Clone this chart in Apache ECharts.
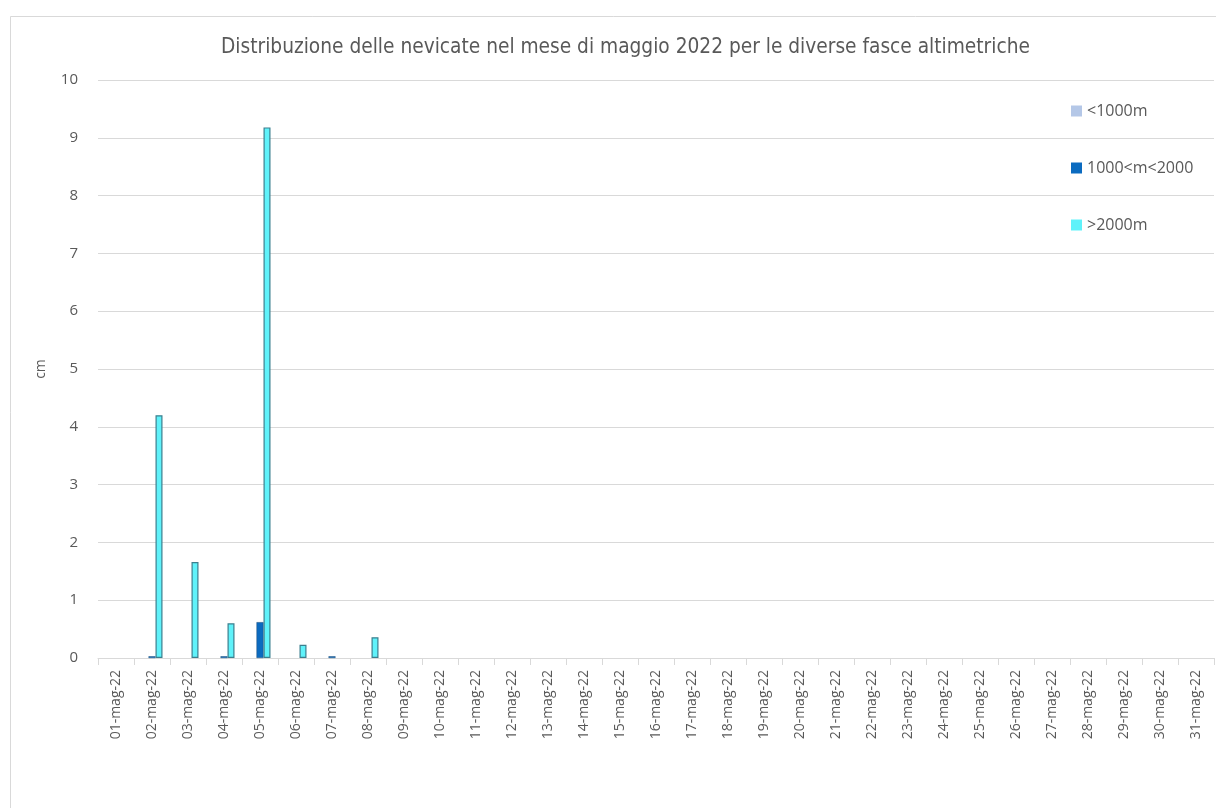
<!DOCTYPE html>
<html><head><meta charset="utf-8">
<script src="https://cdn.jsdelivr.net/npm/echarts@6/dist/echarts.min.js"></script>
<style>html,body{margin:0;padding:0;background:#fff}#c{width:1216px;height:808px}</style>
</head><body><div id="c"></div>
<script>
const categories = ['01-mag-22','02-mag-22','03-mag-22','04-mag-22','05-mag-22','06-mag-22','07-mag-22','08-mag-22','09-mag-22','10-mag-22','11-mag-22','12-mag-22','13-mag-22','14-mag-22','15-mag-22','16-mag-22','17-mag-22','18-mag-22','19-mag-22','20-mag-22','21-mag-22','22-mag-22','23-mag-22','24-mag-22','25-mag-22','26-mag-22','27-mag-22','28-mag-22','29-mag-22','30-mag-22','31-mag-22'];
const below1000 = [0,0,0,0,0,0,0,0,0,0,0,0,0,0,0,0,0,0,0,0,0,0,0,0,0,0,0,0,0,0,0];
const mid1000_2000 = [0,0.03,0,0.03,0.62,0,0.03,0,0,0,0,0,0,0,0,0,0,0,0,0,0,0,0,0,0,0,0,0,0,0,0];
const above2000 = [0,4.2,1.66,0.6,9.18,0.23,0,0.36,0,0,0,0,0,0,0,0,0,0,0,0,0,0,0,0,0,0,0,0,0,0,0];
const seriesNames = ['<1000m','1000<m<2000','>2000m'];

// zero-height bars are not drawn (no visible outline), as in the reference
const nz = arr => arr.map(v => v === 0 ? '-' : v);

const chart = echarts.init(document.getElementById('c'));
const font = 'Open Sans';
chart.setOption({
  animation: false,
  backgroundColor: '#fff',
  graphic: [{type:'rect', shape:{x:10.5,y:16.5,width:1300,height:900}, style:{fill:'none',stroke:'#d9d9d9',lineWidth:1}, z:-10}],
  title: {text:'Distribuzione delle nevicate nel mese di maggio 2022 per le diverse fasce altimetriche', left:216, top:32,
    textStyle:{fontFamily:'DejaVu Sans Condensed', fontSize:20.7, fontWeight:'normal', color:'#595959'}},
  legend: {orient:'vertical', left:1066, top:98, itemGap:41, itemWidth:11, itemHeight:11, icon:'rect',
    textStyle:{fontFamily:font, fontSize:16, color:'#595959'}, itemStyle:{borderWidth:0}},
  grid: {left:98, right:2, top:80, bottom:150, containLabel:false},
  xAxis: {type:'category', data:categories,
    axisLine:{lineStyle:{color:'#d9d9d9'}},
    axisTick:{show:true, length:7, lineStyle:{color:'#d9d9d9'}},
    axisLabel:{rotate:90, fontFamily:font, fontSize:14, color:'#595959', margin:12, interval:0}},
  yAxis: {type:'value', min:0, max:10, interval:1, name:'cm', nameLocation:'middle', nameGap:50,
    nameTextStyle:{fontFamily:font, fontSize:14, color:'#595959'},
    axisLabel:{fontFamily:font, fontSize:15, color:'#595959', margin:20},
    splitLine:{lineStyle:{color:'#d9d9d9'}}, axisLine:{show:false}, axisTick:{show:false}},
  series: [
    {name:seriesNames[0], type:'bar', data:nz(below1000), barWidth:7, barGap:'0%', itemStyle:{color:'#b4c7e7'}},
    {name:seriesNames[1], type:'bar', data:nz(mid1000_2000), barWidth:7, barGap:'0%', itemStyle:{color:'#0b6bc0', borderColor:'#1f4e79', borderWidth:0.5}},
    {name:seriesNames[2], type:'bar', data:nz(above2000), barWidth:7, barGap:'0%', itemStyle:{color:'#5ff2fa', borderColor:'#3b7f8e', borderWidth:1.2}}
  ]
});
</script></body></html>
